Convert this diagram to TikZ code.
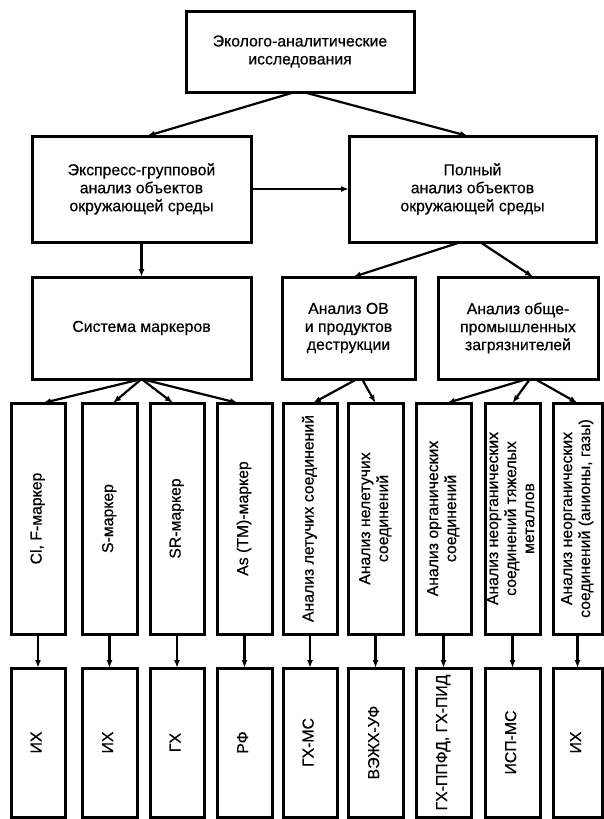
\documentclass[tikz,border=0pt]{standalone}
\usepackage{fontspec}
\setmainfont[FakeBold=0.5]{Liberation Sans}
\usetikzlibrary{arrows.meta}
\newcommand{\vtxt}[1]{\rotatebox{90}{\begin{tabular}{@{}c@{}}#1\end{tabular}}}
\begin{document}
\begin{tikzpicture}[x=1pt,y=-1pt,
  box/.style={draw,line width=3pt,inner sep=0pt,outer sep=0pt,align=center,
    font=\fontsize{15.8}{18}\selectfont},
  colbox/.style={box,minimum width=#1},
  upbox/.style={minimum height=231pt},
  lowbox/.style={minimum height=149pt},
  arr/.style={line width=2.2pt,-{Latex[length=8pt,width=6pt]}}
]
\useasboundingbox (0,0) rectangle (603,819);

% top levels
\node[box,minimum width=228pt,minimum height=81pt] (top) at (300,51.5)
  {Эколого-аналитические\\исследования};
\node[box,minimum width=219pt,minimum height=106pt] (expr) at (141.5,189)
  {Экспресс-групповой\\анализ объектов\\окружающей среды};
\node[box,minimum width=247pt,minimum height=106pt] (full) at (472.5,189)
  {Полный\\анализ объектов\\окружающей среды};
\node[box,minimum width=219pt,minimum height=102pt] (sist) at (141.5,328)
  {Система маркеров};
\node[box,minimum width=133pt,minimum height=102pt] (ov) at (348.5,328)
  {Анализ ОВ\\и продуктов\\деструкции};
\node[box,minimum width=160pt,minimum height=102pt] (obs) at (518,328)
  {Анализ обще-\\промышленных\\загрязнителей};

% upper column boxes
\node[colbox=54pt,upbox] (c1) at (38,518.5) {\vtxt{Cl, F-маркер}};
\node[colbox=55pt,upbox] (c2) at (109.5,518.5) {\vtxt{S-маркер}};
\node[colbox=54pt,upbox] (c3) at (177,518.5) {\vtxt{SR-маркер}};
\node[colbox=55pt,upbox] (c4) at (244.5,518.5) {\vtxt{As (ТМ)-маркер}};
\node[colbox=54pt,upbox] (c5) at (310,518.5) {\vtxt{Анализ летучих соединений}};
\node[colbox=55pt,upbox] (c6) at (375.5,518.5) {\vtxt{Анализ нелетучих\\соединений}};
\node[colbox=55pt,upbox] (c7) at (443.5,518.5) {\vtxt{Анализ органических\\соединений}};
\node[colbox=55pt,upbox] (c8) at (512.5,518.5) {\vtxt{Анализ неорганических\\соединений тяжелых\\металлов}};
\node[colbox=49pt,upbox] (c9) at (577.5,518.5) {\vtxt{Анализ неорганических\\соединений (анионы, газы)}};

% lower column boxes
\node[colbox=54pt,lowbox] (d1) at (38,742.5) {\vtxt{ИХ}};
\node[colbox=55pt,lowbox] (d2) at (109.5,742.5) {\vtxt{ИХ}};
\node[colbox=54pt,lowbox] (d3) at (177,742.5) {\vtxt{ГХ}};
\node[colbox=55pt,lowbox] (d4) at (244.5,742.5) {\vtxt{РФ}};
\node[colbox=54pt,lowbox] (d5) at (310,742.5) {\vtxt{ГХ-МС}};
\node[colbox=55pt,lowbox] (d6) at (375.5,742.5) {\vtxt{ВЭЖХ-УФ}};
\node[colbox=55pt,lowbox] (d7) at (443.5,742.5) {\vtxt{ГХ-ППФД, ГХ-ПИД}};
\node[colbox=55pt,lowbox] (d8) at (512.5,742.5) {\vtxt{ИСП-МС}};
\node[colbox=49pt,lowbox] (d9) at (577.5,742.5) {\vtxt{ИХ}};

% connectors
\draw[arr] ([xshift=-5pt]top.south) -- ([xshift=5.5pt]expr.north);
\draw[arr] ([xshift=3pt]top.south) -- ([xshift=-4.5pt]full.north);
\draw[arr] (expr.east) -- (full.west);
\draw[arr] (expr.south) -- (sist.north);
\draw[arr] ([xshift=-11.5pt]full.south) -- ([xshift=4.5pt]ov.north);
\draw[arr] ([xshift=7.5pt]full.south) -- ([xshift=15pt]obs.north);

\draw[arr] (sist.south) -- ([xshift=5pt]c1.north);
\draw[arr] (sist.south) -- ([xshift=3.5pt]c2.north);
\draw[arr] (sist.south) -- ([xshift=-4pt]c3.north);
\draw[arr] (sist.south) -- ([xshift=-6.5pt]c4.north);
\draw[arr] ([xshift=8.5pt]ov.south) -- ([xshift=3pt]c5.north);
\draw[arr] ([xshift=13.5pt]ov.south) -- (c6.north);
\draw[arr] ([xshift=9pt]obs.south) -- ([xshift=3.5pt]c7.north);
\draw[arr] ([xshift=12pt]obs.south) -- (c8.north);
\draw[arr] ([xshift=17pt]obs.south) -- (c9.north);

\foreach \i in {1,...,9} {
  \draw[arr] (c\i.south) -- (d\i.north);
}
\end{tikzpicture}
\end{document}
